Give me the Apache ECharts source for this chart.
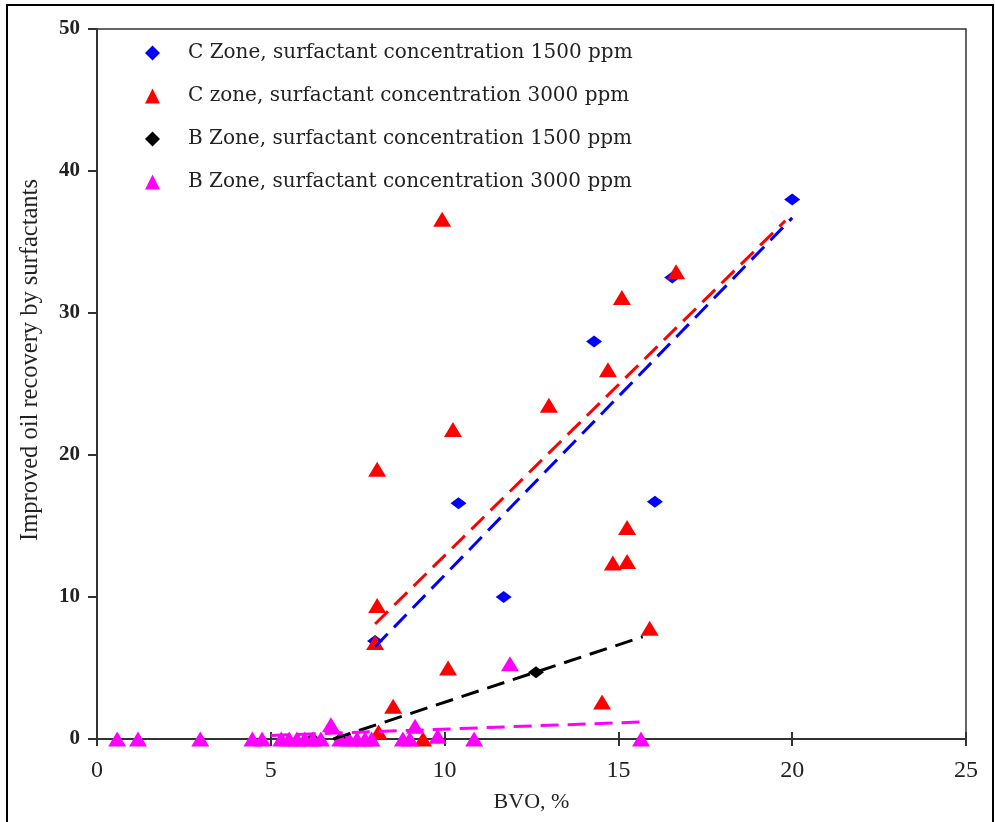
<!DOCTYPE html>
<html>
<head>
<meta charset="utf-8">
<script src="https://cdn.jsdelivr.net/npm/echarts@6/dist/echarts.min.js"></script>
<style>
  html, body { margin: 0; padding: 0; background: #fff; }
  #chart { width: 995px; height: 822px; }
</style>
</head>
<body>
<div id="chart"></div>
<script>
// Series names
const nameC1500 = 'C Zone, surfactant concentration 1500 ppm';
const nameC3000 = 'C zone, surfactant concentration 3000 ppm';
const nameB1500 = 'B Zone, surfactant concentration 1500 ppm';
const nameB3000 = 'B Zone, surfactant concentration 3000 ppm';

// Measured points: [BVO %, improved oil recovery]
const cZone1500 = [
  [20.0, 38.0], [16.55, 32.5], [14.3, 28.0], [10.4, 16.6],
  [16.05, 16.7], [11.7, 10.0], [8.0, 6.9]
];
const cZone3000 = [
  [9.93, 36.6], [16.66, 32.9], [15.1, 31.1], [14.7, 26.0], [13.0, 23.5],
  [10.24, 21.8], [8.06, 19.0], [8.06, 9.4], [8.0, 6.8], [15.25, 14.9],
  [14.84, 12.4], [15.25, 12.5], [15.9, 7.8], [10.1, 5.0], [8.52, 2.3],
  [14.53, 2.6], [8.1, 0.5], [9.38, 0.0]
];
const bZone1500 = [[6.2, 0.0], [7.0, 0.0], [12.63, 4.7]];
const bZone3000 = [
  [0.58, 0], [1.18, 0], [2.97, 0], [4.47, 0], [4.75, 0], [5.3, 0],
  [5.53, 0], [5.75, 0], [5.98, 0], [6.21, 0], [6.44, 0], [6.73, 1.0],
  [7.0, 0], [7.25, 0], [7.48, 0], [7.71, 0], [7.9, 0], [8.8, 0],
  [9.0, 0], [9.15, 0.9], [9.8, 0.2], [10.85, 0], [11.88, 5.3], [15.65, 0]
];

// Linear trend lines (end points)
const cZone1500Trend = [[8.0, 6.5], [20.0, 36.7]];
const cZone3000Trend = [[8.0, 8.1], [19.8, 36.5]];
const bZone1500Trend = [[6.8, 0.0], [15.7, 7.2]];
const bZone3000Trend = [[5.0, 0.25], [15.65, 1.2]];

// Axis ranges
const xRange = { min: 0, max: 25, interval: 5 };
const yRange = { min: 0, max: 50, interval: 10 };
const yTitle = 'Improved oil recovery by surfactants';

const serif = 'Liberation Serif';
const axisColor = '#333';

const chart = echarts.init(document.getElementById('chart'), null, { renderer: 'canvas' });

function scatter(name, data, symbol, size, color) {
  return {
    name, type: 'scatter', data, symbol, symbolSize: size,
    itemStyle: { color, opacity: 1 }, z: 3, silent: true
  };
}
function trend(data, color) {
  return {
    type: 'line', data, symbol: 'none', silent: true, z: 4,
    lineStyle: { color, width: 3, type: [18, 9] }
  };
}

const option = {
  animation: false,
  backgroundColor: '#fff',
  grid: {
    left: 97, top: 29, right: 29, bottom: 83,
    outerBoundsMode: 'none', containLabel: false,
    show: true, borderColor: axisColor, borderWidth: 1.5, backgroundColor: 'transparent'
  },
  legend: {
    orient: 'vertical', left: 140, top: 38, itemGap: 23,
    itemWidth: 15, itemHeight: 15,
    data: [
      { name: nameC1500, icon: 'diamond' },
      { name: nameC3000, icon: 'triangle' },
      { name: nameB1500, icon: 'diamond' },
      { name: nameB3000, icon: 'triangle' }
    ],
    textStyle: { fontFamily: 'DejaVu Serif', fontSize: 20, color: '#222', padding: [0, 0, 0, 23] }
  },
  xAxis: [{
    type: 'value', min: xRange.min, max: xRange.max, interval: xRange.interval,
    name: 'BVO, %', nameLocation: 'middle', nameGap: 52,
    nameTextStyle: { fontFamily: serif, fontSize: 22, color: '#222' },
    axisLine: { lineStyle: { color: axisColor, width: 2 } },
    axisTick: { inside: false, length: 7, lineStyle: { color: axisColor, width: 2 } },
    axisLabel: { fontFamily: serif, fontSize: 24, color: '#222', margin: 20 },
    splitLine: { show: false }
  }, {
    type: 'value', min: xRange.min, max: xRange.max, interval: xRange.interval,
    position: 'bottom',
    axisLine: { show: false },
    axisTick: { inside: true, length: 7, lineStyle: { color: axisColor, width: 2 } },
    axisLabel: { show: false },
    splitLine: { show: false }
  }],
  yAxis: {
    type: 'value', min: yRange.min, max: yRange.max, interval: yRange.interval,
    axisLine: { show: true, lineStyle: { color: axisColor, width: 2 } },
    axisTick: { show: true, inside: false, length: 9, lineStyle: { color: axisColor, width: 2 } },
    axisLabel: { fontFamily: serif, fontSize: 21, fontWeight: 'bold', color: '#222', margin: 17 },
    splitLine: { show: false }
  },
  graphic: [{
    type: 'rect', silent: true, z: 100,
    shape: { x: 7, y: 5, width: 986, height: 830 },
    style: { fill: 'none', stroke: '#000', lineWidth: 2 }
  }, {
    type: 'text', silent: true, z: 100,
    x: 31, y: 360, rotation: Math.PI / 2,
    style: {
      text: yTitle, fontFamily: serif, fontSize: 24.5, fill: '#222',
      align: 'center', verticalAlign: 'middle'
    }
  }],
  series: [
    scatter(nameC1500, cZone1500, 'diamond', [16, 12], '#0000ff'),
    scatter(nameC3000, cZone3000, 'triangle', [18, 15], '#ff0000'),
    scatter(nameB1500, bZone1500, 'diamond', [16, 12], '#000000'),
    scatter(nameB3000, bZone3000, 'triangle', [18, 15], '#ff00ff'),
    trend(cZone3000Trend, '#ff0000'),
    trend(cZone1500Trend, '#0000ff'),
    trend(bZone1500Trend, '#000000'),
    trend(bZone3000Trend, '#ff00ff')
  ]
};

chart.setOption(option);
</script>
</body>
</html>
